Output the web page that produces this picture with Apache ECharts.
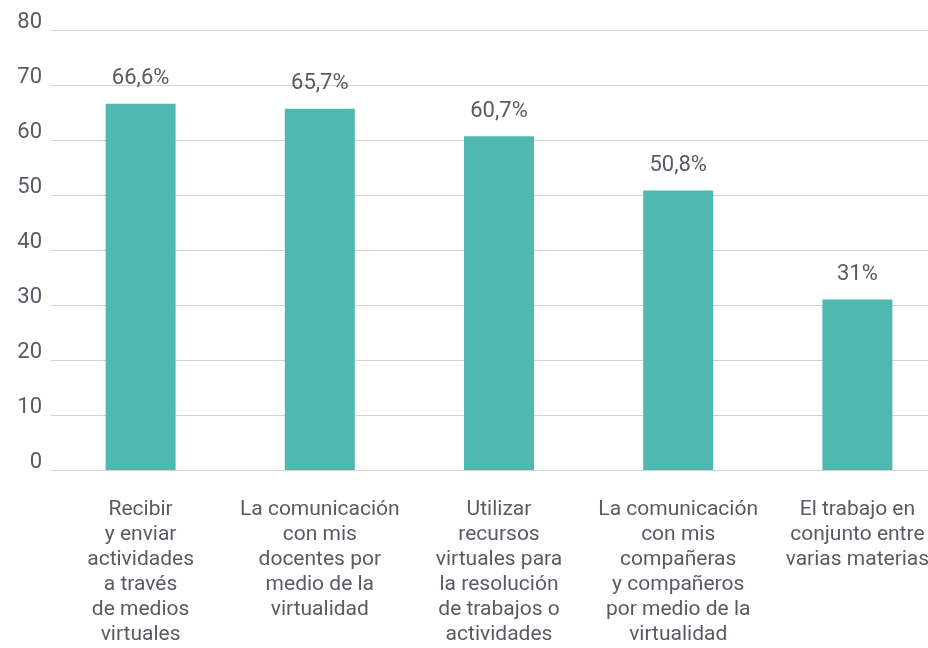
<!DOCTYPE html>
<html lang="es">
<head>
    <meta charset="UTF-8">
    <title>Actividades virtuales</title>
    <script src="https://cdn.jsdelivr.net/npm/echarts@6/dist/echarts.min.js"></script>
    <style>
        html, body { margin: 0; padding: 0; background: #fff; }
        #chart { width: 928px; height: 648px; }
    </style>
</head>
<body>
<div id="chart"></div>
<script>
    var categories = [
        'Recibir\ny enviar\nactividades\na través\nde medios\nvirtuales',
        'La comunicación\ncon mis\ndocentes por\nmedio de la\nvirtualidad',
        'Utilizar\nrecursos\nvirtuales para\nla resolución\nde trabajos o\nactividades',
        'La comunicación\ncon mis\ncompañeras\ny compañeros\npor medio de la\nvirtualidad',
        'El trabajo en\nconjunto entre\nvarias materias'
    ];
    var values = [66.6, 65.7, 60.7, 50.8, 31];

    var textColor = '#5a5a64';
    var font = 'Roboto, "Noto Sans", sans-serif';

    var myChart = echarts.init(document.getElementById('chart'));
    // the plot runs past the right edge, last label gets cut like the original
    var option = {
        animation: false,
        grid: { left: 51, width: 896, top: 30, height: 440, outerBoundsMode: 'none' },
        xAxis: {
            type: 'category',
            data: categories,
            axisLine: { show: true, lineStyle: { color: '#d3d3d3', width: 1 } },
            axisTick: { show: false },
            axisLabel: {
                interval: 0,
                margin: 27,
                color: textColor,
                fontFamily: font,
                fontSize: 21,
                lineHeight: 25
            }
        },
        yAxis: {
            type: 'value',
            min: 0,
            max: 80,
            interval: 10,
            axisLine: { show: false },
            axisTick: { show: false },
            splitLine: { lineStyle: { color: '#d3d3d3', width: 1 } },
            axisLabel: {
                margin: 9,
                color: textColor,
                fontFamily: font,
                fontSize: 22,
                lineHeight: 16,
                verticalAlign: 'bottom'
            }
        },
        series: [{
            type: 'bar',
            data: values,
            barWidth: 70,
            itemStyle: { color: '#4fb8b0' },
            label: {
                show: true,
                position: 'top',
                distance: 14,
                color: textColor,
                fontFamily: font,
                fontSize: 22,
                formatter: function (p) {
                    return String(p.value).replace('.', ',') + '%';
                }
            }
        }]
    };
    myChart.setOption(option);
</script>
</body>
</html>
